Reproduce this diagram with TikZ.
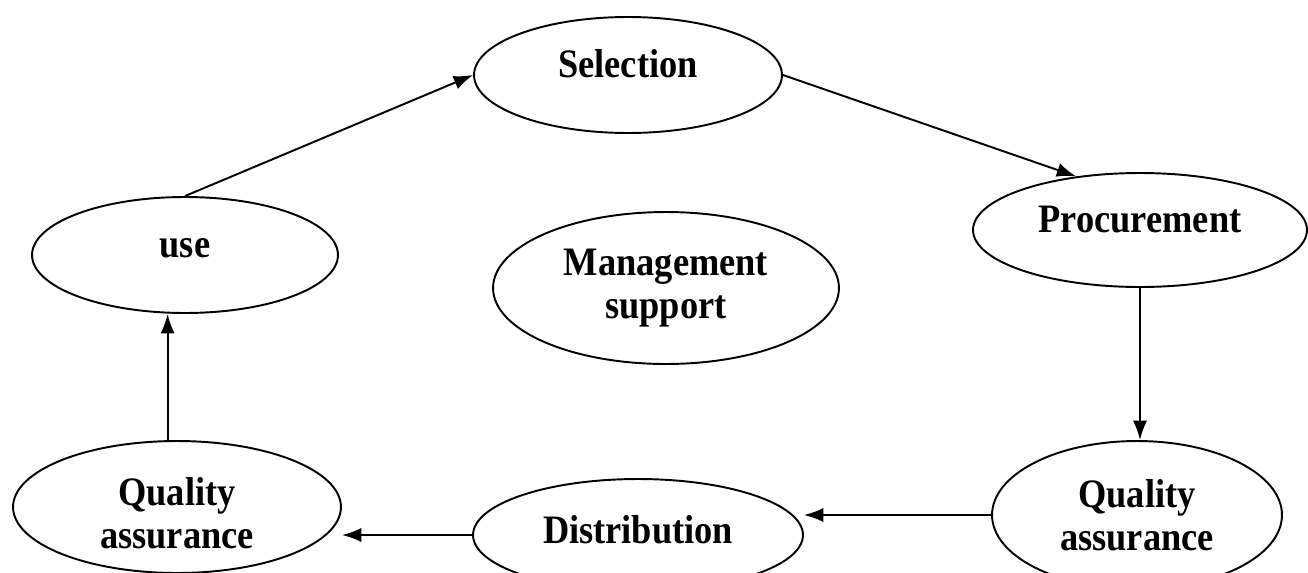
\documentclass[tikz,border=0pt]{standalone}
\usepackage{fontspec}
\setmainfont[FakeStretch=0.9]{Liberation Serif}
\usepackage{tikz}
\usetikzlibrary{arrows.meta}
\usetikzlibrary{shapes.geometric}
\begin{document}
\begin{tikzpicture}[
x=0.02cm, y=-0.02cm,
Stage/.style={draw, ellipse, line width=1.1pt, inner sep=0pt, align=center,
  font=\bfseries\fontsize{23}{24.5}\selectfont},
OneLine/.style={text height=16pt, text depth=13pt},
Flow/.style={-{Latex[length=11pt, width=8pt]}, line width=1.1pt}
]
\clip (0,0) rectangle (1308,572);

% centres of the stages (in pixels of the page)
\coordinate (S) at (628,75);
\coordinate (P) at (1140,230);
\coordinate (U) at (185,255);
\coordinate (M) at (666,288);
\coordinate (QL) at (177,507);
\coordinate (D) at (638,535);
\coordinate (QR) at (1137,515);

\node[Stage, OneLine, minimum width=6.16cm, minimum height=2.32cm] (sel) at (S) {Selection};
\node[Stage, OneLine, minimum width=6.68cm, minimum height=2.28cm] (proc) at (P) {Procurement};
\node[Stage, OneLine, minimum width=6.12cm, minimum height=2.32cm] (use) at (U) {use};
\node[Stage, minimum width=6.92cm, minimum height=3.04cm] (mgmt) at (M) {Management\\support};
\node[Stage, minimum width=6.56cm, minimum height=2.64cm] (qal) at (QL) {\rule{0pt}{1.02em}Quality\\assurance};
\node[Stage, OneLine, text height=14pt, text depth=4pt, minimum width=6.6cm, minimum height=2.24cm] (dist) at (D) {Distribution};
\node[Stage, minimum width=5.8cm, minimum height=2.96cm] (qar) at (QR) {Quality\\assurance};

% the cycle
\draw[Flow] (use.north) -- (sel.west);
\draw[Flow] (sel.east) -- (proc.140);
\draw[Flow] (proc.south) -- (proc.south |- qar.north);
\draw[Flow] (qar.west) -- (qar.west -| dist.east);
\draw[Flow] (dist.west) -- (dist.west -| qal.east);
\draw[Flow] (qal.98) -- (qal.98 |- use.south);

\end{tikzpicture}
\end{document}
